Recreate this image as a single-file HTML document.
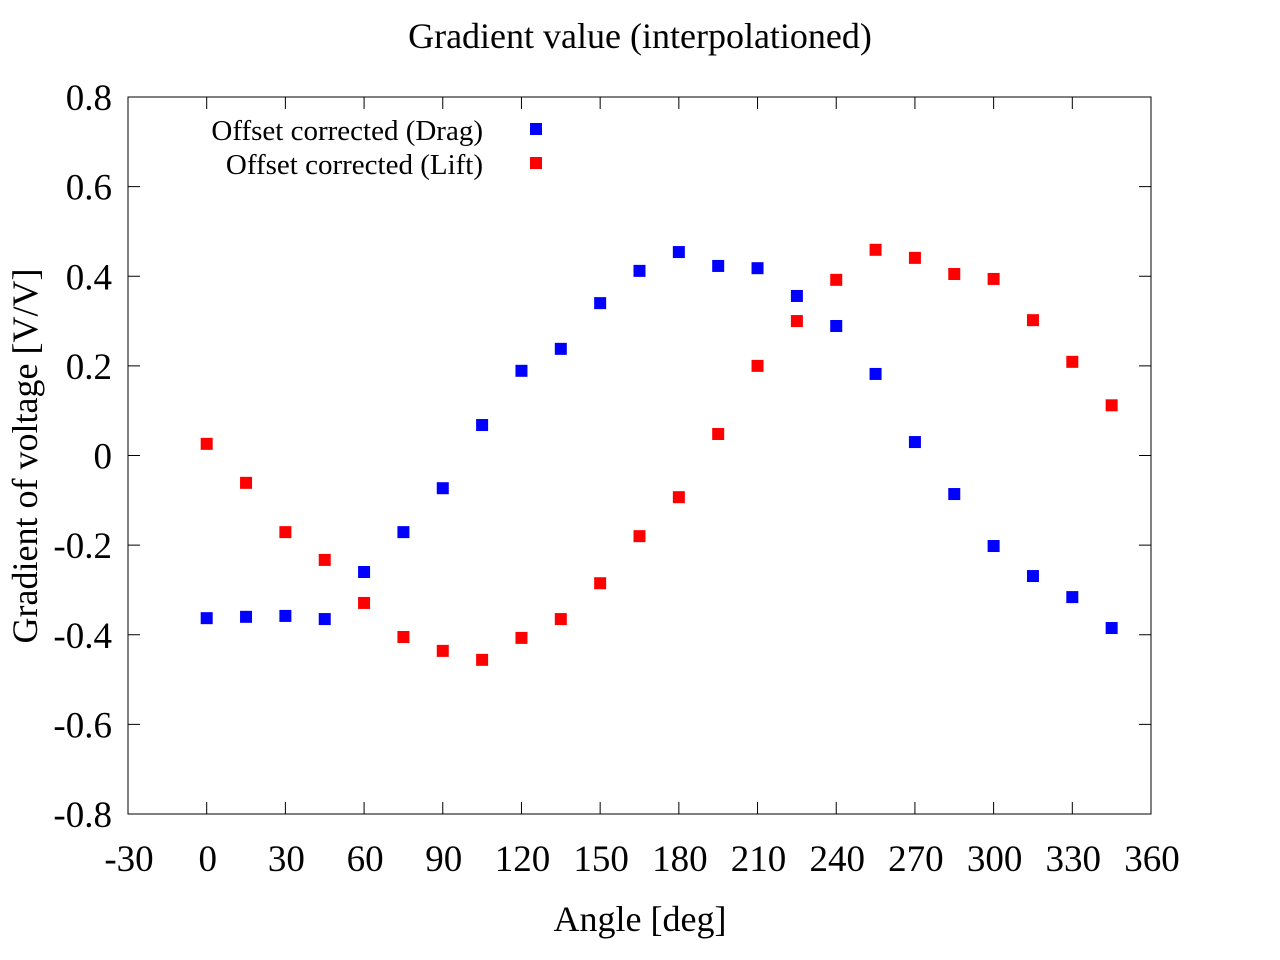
<!DOCTYPE html>
<html><head><meta charset="utf-8"><style>body{margin:0;background:#fff}svg{display:block}text{font-family:"Liberation Serif",serif;fill:#000}</style></head>
<body>
<svg id="chart" width="1280" height="960" xmlns="http://www.w3.org/2000/svg">
<rect width="1280" height="960" fill="#fff"/>
<text x="640" y="48" font-size="36" text-anchor="middle">Gradient value (interpolationed)</text>
<text x="640" y="931" font-size="36" text-anchor="middle">Angle [deg]</text>
<text transform="translate(37,456) rotate(-90)" font-size="36" text-anchor="middle">Gradient of voltage [V/V]</text>
<g id="axes"></g>
<g id="marks"></g>
<g>
<text x="483" y="140" font-size="29" text-anchor="end">Offset corrected (Drag)</text>
<rect x="530" y="123" width="12" height="12" fill="#0000ff"/>
<text x="483" y="174" font-size="29" text-anchor="end">Offset corrected (Lift)</text>
<rect x="530" y="157" width="12" height="12" fill="#ff0000"/>
</g>
</svg>
<script>
const angles=[0,15,30,45,60,75,90,105,120,135,150,165,180,195,210,225,240,255,270,285,300,315,330,345];
const dragValues=[-0.363,-0.360,-0.358,-0.365,-0.26,-0.171,-0.073,0.068,0.189,0.238,0.340,0.412,0.454,0.423,0.418,0.356,0.289,0.182,0.030,-0.086,-0.202,-0.269,-0.316,-0.385];
const liftValues=[0.026,-0.061,-0.171,-0.233,-0.329,-0.405,-0.436,-0.456,-0.407,-0.365,-0.285,-0.180,-0.093,0.048,0.200,0.300,0.392,0.459,0.441,0.405,0.394,0.302,0.209,0.112];
const xTicks=[-30,0,30,60,90,120,150,180,210,240,270,300,330,360];
const yTicks=[-0.8,-0.6,-0.4,-0.2,0,0.2,0.4,0.6,0.8];
const L=128,R=1151,T=97,B=814;
const xs=v=>L+(v+30)/390*(R-L);
const ys=v=>B-(v+0.8)/1.6*(B-T);
const NS="http://www.w3.org/2000/svg";
const axes=document.getElementById('axes'),marks=document.getElementById('marks');
function mk(tag,attrs,parent){const e=document.createElementNS(NS,tag);for(const k in attrs)e.setAttribute(k,attrs[k]);parent.appendChild(e);return e;}
const frame=mk('rect',{x:L,y:T,width:R-L,height:B-T,fill:'none',stroke:'#000','stroke-width':1},axes);


xTicks.forEach(t=>{const x=xs(t);
 const l=mk('path',{d:`M${x},${B}v-12M${x},${T}v12`,stroke:'#000'},axes);
 
 
 const tx=mk('text',{x:x+1,y:871,'font-size':37,'text-anchor':'middle'},axes);tx.textContent=t;
 
 });
yTicks.forEach(t=>{const y=ys(t);
 const l=mk('path',{d:`M${L},${y}h12M${R},${y}h-12`,stroke:'#000'},axes);
 
 
 const tx=mk('text',{x:112,y:y+13,'font-size':37,'text-anchor':'end'},axes);tx.textContent=(t===0?'0':t.toFixed(1));
 
 });
function series(vals,color,name){vals.forEach((v,i)=>{const r=mk('rect',{x:xs(angles[i])-6,y:ys(v)-6,width:12,height:12,fill:color},marks);
 
 });}
series(dragValues,'#0000ff','drag-point');
series(liftValues,'#ff0000','lift-point');
</script>
</body></html>
